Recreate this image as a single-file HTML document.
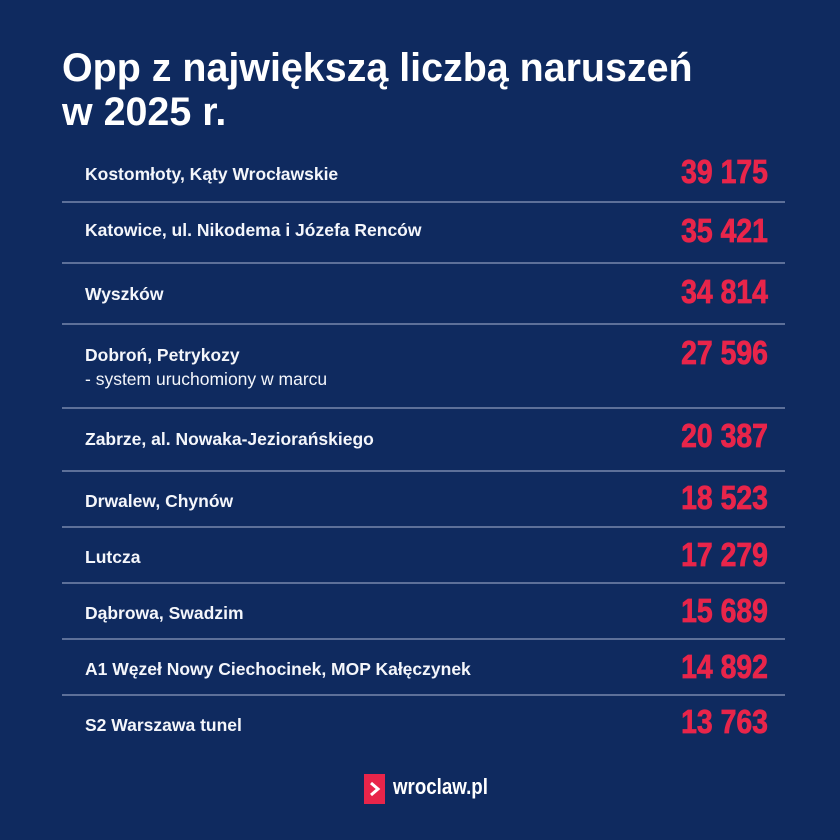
<!DOCTYPE html>
<html><head><meta charset="utf-8"><style>
body{margin:0;width:840px;height:840px;background:#0f2a5f;overflow:hidden;position:relative;font-family:"Liberation Sans",sans-serif;color:#fff}
.t{position:absolute;left:62px;font-weight:bold;font-size:40px;transform:scaleX(0.985);transform-origin:left;white-space:nowrap;line-height:1}
.l{position:absolute;font-size:17.5px;font-weight:bold;transform:scaleX(1);transform-origin:left;white-space:nowrap;line-height:1;color:#f4f6fb}
.s{font-weight:normal}
.n{position:absolute;right:72px;font-size:33px;font-weight:bold;color:#e8254a;-webkit-text-stroke:0.8px #e8254a;transform:scaleX(0.86);transform-origin:right;white-space:nowrap;line-height:1}
.h{position:absolute;left:62px;width:723px;height:1.5px;background:#5d7099}
</style></head><body>
<div class="t" style="top:48px">Opp z największą liczbą naruszeń</div>
<div class="t" style="top:92px">w 2025 r.</div>

<div class="l" style="left:85px;top:166px">Kostomłoty, Kąty Wrocławskie</div><div class="n" style="top:155px">39 175</div>
<div class="h" style="top:201px"></div>
<div class="l" style="left:85px;top:222px">Katowice, ul. Nikodema i Józefa Renców</div><div class="n" style="top:214px">35 421</div>
<div class="h" style="top:262px"></div>
<div class="l" style="left:85px;top:286px">Wyszków</div><div class="n" style="top:275px">34 814</div>
<div class="h" style="top:323px"></div>
<div class="l" style="left:85px;top:347px">Dobroń, Petrykozy</div>
<div class="l s" style="left:85px;top:371px">- system uruchomiony w marcu</div><div class="n" style="top:336px">27 596</div>
<div class="h" style="top:407px"></div>
<div class="l" style="left:85px;top:431px">Zabrze, al. Nowaka-Jeziorańskiego</div><div class="n" style="top:419px">20 387</div>
<div class="h" style="top:470px"></div>
<div class="l" style="left:85px;top:493px">Drwalew, Chynów</div><div class="n" style="top:481px">18 523</div>
<div class="h" style="top:526px"></div>
<div class="l" style="left:85px;top:549px">Lutcza</div><div class="n" style="top:538px">17 279</div>
<div class="h" style="top:582px"></div>
<div class="l" style="left:85px;top:605px">Dąbrowa, Swadzim</div><div class="n" style="top:594px">15 689</div>
<div class="h" style="top:638px"></div>
<div class="l" style="left:85px;top:661px">A1 Węzeł Nowy Ciechocinek, MOP Kałęczynek</div><div class="n" style="top:650px">14 892</div>
<div class="h" style="top:694px"></div>
<div class="l" style="left:85px;top:717px">S2 Warszawa tunel</div><div class="n" style="top:705px">13 763</div>

<div style="position:absolute;left:364px;top:774px;width:21px;height:30px;background:#e8254a"></div>
<svg style="position:absolute;left:364px;top:774px" width="21" height="30"><polyline points="7,9 14,15 7,21" fill="none" stroke="#fff" stroke-width="3"/></svg>
<div style="position:absolute;left:393px;top:776px;font-size:22px;font-weight:bold;transform:scaleX(0.85);transform-origin:left;line-height:1">wroclaw.pl</div>
</body></html>
